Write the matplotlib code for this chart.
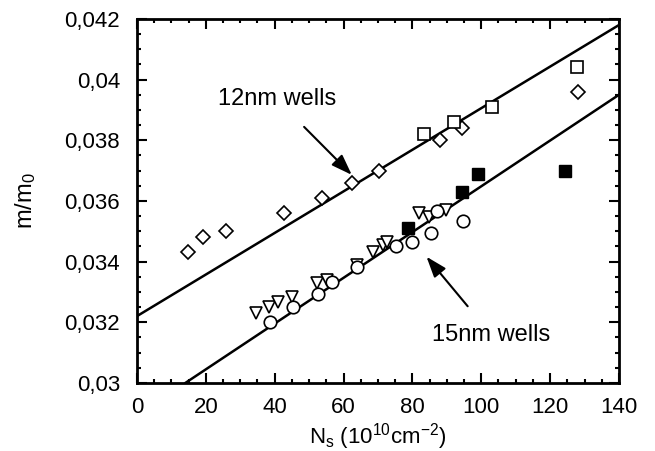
import numpy as np
import matplotlib
matplotlib.use('Agg')
import matplotlib.pyplot as plt
from matplotlib.ticker import MultipleLocator, FuncFormatter

plt.rcParams['font.family'] = ['Liberation Sans', 'DejaVu Sans']
plt.rcParams['mathtext.fontset'] = 'custom'
plt.rcParams['mathtext.rm'] = 'Liberation Sans'
plt.rcParams['mathtext.it'] = 'Liberation Sans'

# 12nm wells data
w12_diamond_x = [14.9, 19.1, 25.8, 42.8, 53.9, 62.4, 70.4, 88.0, 94.5, 128.2]
w12_diamond_y = [0.0343, 0.0348, 0.0350, 0.0356, 0.0361, 0.0366, 0.0370, 0.0380, 0.0384, 0.0396]
w12_square_x = [83.4, 92.0, 103.0, 127.7]
w12_square_y = [0.0382, 0.0386, 0.0391, 0.0404]

# 15nm wells data
w15_tri_x = [34.6, 38.4, 41.0, 44.9, 52.2, 55.1, 63.8, 68.6, 71.5, 72.5, 82.0, 84.9, 89.7]
w15_tri_y = [0.0323, 0.0325, 0.03268, 0.03284, 0.03329, 0.0334, 0.0339, 0.0343,
             0.03455, 0.03466, 0.03559, 0.03546, 0.0357]
w15_circle_x = [38.6, 45.2, 52.5, 56.8, 63.8, 75.2, 79.8, 85.3, 94.6, 87.2]
w15_circle_y = [0.0320, 0.0325, 0.03292, 0.03334, 0.03383, 0.03452, 0.03463, 0.03493,
                0.03534, 0.03568]
w15_filled_x = [78.8, 94.3, 99.1, 124.3]
w15_filled_y = [0.0351, 0.0363, 0.0369, 0.0370]

# fitted lines (end points)
fit12_x = [0, 140]
fit12_y = [0.0322, 0.0418]
fit15_x = [14.1, 140]
fit15_y = [0.0300, 0.0395]

fig = plt.figure(figsize=(6.55, 4.51), dpi=100)
ax = fig.add_axes([0.209, 0.151, 0.736, 0.807])

ax.plot(fit12_x, fit12_y, color='black', lw=1.8)
ax.plot(fit15_x, fit15_y, color='black', lw=1.8)

mk = dict(linestyle='none', color='black', mfc='white', mew=1.2)
ax.plot(w12_diamond_x, w12_diamond_y, marker='D', ms=7, **mk)
ax.plot(w12_square_x, w12_square_y, marker='s', ms=8, **mk)
ax.plot(w15_tri_x, w15_tri_y, marker='v', ms=9, **mk)
ax.plot(w15_circle_x, w15_circle_y, marker='o', ms=9, **mk)
ax.plot(w15_filled_x, w15_filled_y, linestyle='none', marker='s', ms=8, color='black')

arrow = dict(arrowstyle='-|>,head_length=0.7,head_width=0.25', color='black', lw=1.5,
             shrinkA=14, shrinkB=0, mutation_scale=18)
ax.annotate('12nm wells', xy=(62.4, 0.03686), xytext=(40.6, 0.03935),
            fontsize=17, ha='center', va='center', arrowprops=arrow)
ax.annotate('15nm wells', xy=(84.1, 0.03416), xytext=(103.0, 0.03158),
            fontsize=17, ha='center', va='center', arrowprops=arrow)

ax.set_xlim(0, 140)
ax.set_ylim(0.030, 0.042)
ax.xaxis.set_major_locator(MultipleLocator(20))
ax.xaxis.set_minor_locator(MultipleLocator(5))
ax.yaxis.set_major_locator(MultipleLocator(0.002))
ax.yaxis.set_minor_locator(MultipleLocator(0.0005))
ax.yaxis.set_major_formatter(FuncFormatter(lambda v, p: ('%g' % round(v, 4)).replace('.', ',')))

ax.tick_params(which='both', direction='in', top=True, right=True, labelsize=16, width=1.5)
ax.tick_params(which='major', length=7)
ax.tick_params(which='minor', length=3)
ax.tick_params(axis='y', pad=12)
ax.tick_params(axis='x', pad=10)
for s in ax.spines.values():
    s.set_linewidth(2)

ax.set_xlabel('N$_s$ (10$^{10}$cm$^{-2}$)', fontsize=16)
ax.set_ylabel('m/m$_0$', fontsize=17)
ax.xaxis.set_label_coords(0.5, -0.105)
ax.yaxis.set_label_coords(-0.205, 0.5)

plt.savefig('out.png', dpi=100)
